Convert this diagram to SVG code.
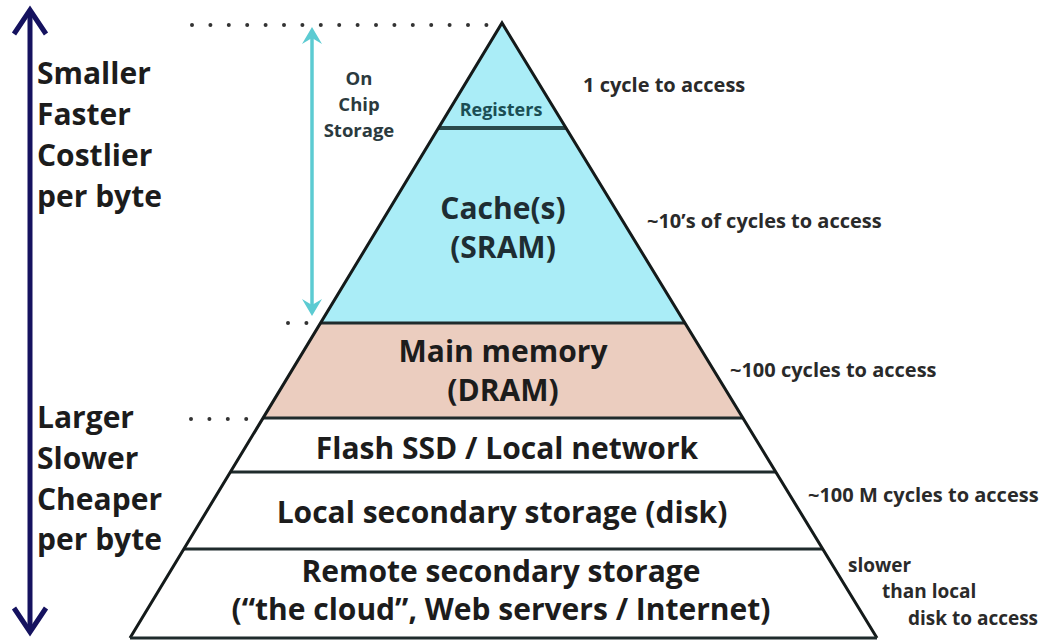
<svg xmlns="http://www.w3.org/2000/svg" width="1047" height="642" viewBox="0 0 1047 642">
<style>
.t{font-family:"Open Sans","Liberation Sans",sans-serif;font-weight:700;fill:#1c1c1c}
.big{font-size:30px}
.mid{font-size:20px;fill:#2a2a2a}
.sm{font-size:18.5px;fill:#2b3a3e}
.c{text-anchor:middle}
.band{stroke:none}
.sep{stroke:#1f2b2c;stroke-width:3;fill:none}
.edge{stroke:#141a1a;stroke-width:3;fill:none;stroke-linejoin:miter}
.dots{stroke:#333;stroke-width:4;stroke-linecap:round;stroke-dasharray:0 18.4;fill:none}
</style>
<rect width="1047" height="642" fill="#ffffff"/>

<g id="registers">
<polygon class="band" points="502,23 438.5,128 566,128" fill="#aaedf7"/>
<text class="t c" x="501" y="116" style="font-size:18px;fill:#1b4e54">Registers</text>
</g>
<g id="cache">
<polygon class="band" points="438.5,128 566,128 685,323 320.5,323" fill="#aaedf7"/>
<text class="t big c" x="503" y="219" style="fill:#1e2d33">Cache(s)</text>
<text class="t big c" x="503" y="258" style="fill:#1e2d33">(SRAM)</text>
</g>
<g id="dram">
<polygon class="band" points="320.5,323 685,323 743,418 263,418" fill="#ebcdbf"/>
<text class="t big c" x="503" y="362">Main memory</text>
<text class="t big c" x="503" y="401">(DRAM)</text>
</g>
<g id="flash">
<polygon class="band" points="263,418 743,418 776,472 230,472" fill="#ffffff"/>
<text class="t big c" x="507" y="459">Flash SSD / Local network</text>
</g>
<g id="disk">
<polygon class="band" points="230,472 776,472 823,549 184,549" fill="#ffffff"/>
<text class="t big c" x="502" y="523">Local secondary storage (disk)</text>
</g>
<g id="remote">
<polygon class="band" points="184,549 823,549 877,638 130,638" fill="#ffffff"/>
<text class="t big c" x="501" y="582">Remote secondary storage</text>
<text class="t big c" x="501" y="620">(“the cloud”, Web servers / Internet)</text>
</g>

<g id="pyramid-lines">
<line class="sep" x1="438.5" y1="128" x2="566" y2="128" style="stroke:#2a4a4c;stroke-width:4"/>
<line class="sep" x1="320.5" y1="323" x2="685" y2="323"/>
<line class="sep" x1="263" y1="418" x2="743" y2="418"/>
<line class="sep" x1="230" y1="472" x2="776" y2="472"/>
<line class="sep" x1="184" y1="549" x2="823" y2="549"/>
<polyline class="edge" points="130,638 502,23 877,638"/>
<line class="sep" x1="130" y1="638" x2="877" y2="638"/>
</g>

<g id="dotted-guides">
<line class="dots" x1="192" y1="25" x2="490" y2="25"/>
<line class="dots" x1="288" y1="323" x2="310" y2="323"/>
<line class="dots" x1="191" y1="419" x2="250" y2="419"/>
</g>

<g id="connectors">
<g id="speed-arrow" fill="none" stroke="#15125f" stroke-width="5">
<line x1="30" y1="12" x2="30" y2="630"/>
<polyline points="14,34 30,10 46,34" stroke-linejoin="miter"/>
<polyline points="14,608 30,632 46,608" stroke-linejoin="miter"/>
</g>
<g id="onchip-arrow">
<line x1="312" y1="34" x2="312" y2="308" stroke="#5ccbd2" stroke-width="3.5"/>
<path d="M312,27 L302,44 L312,38 L322,44 Z" fill="#5ccbd2"/>
<path d="M312,316 L302,299 L312,305 L322,299 Z" fill="#5ccbd2"/>
</g>
</g>

<g id="left-labels">
<text class="t big" x="37" y="84">Smaller</text>
<text class="t big" x="37" y="125">Faster</text>
<text class="t big" x="37" y="166">Costlier</text>
<text class="t big" x="37" y="207">per byte</text>
<text class="t big" x="37" y="428">Larger</text>
<text class="t big" x="37" y="469">Slower</text>
<text class="t big" x="37" y="510">Cheaper</text>
<text class="t big" x="37" y="550">per byte</text>
</g>

<g id="onchip-label">
<text class="t sm c" x="359" y="85">On</text>
<text class="t sm c" x="359" y="111">Chip</text>
<text class="t sm c" x="359" y="137">Storage</text>
</g>

<g id="right-labels">
<text class="t mid" x="583" y="92">1 cycle to access</text>
<text class="t mid" x="647" y="228">~10’s of cycles to access</text>
<text class="t mid" x="730" y="377">~100 cycles to access</text>
<text class="t mid" x="808" y="502">~100 M cycles to access</text>
<text class="t mid" x="848" y="572" style="font-size:19px">slower</text>
<text class="t mid" x="882" y="598" style="font-size:19px">than local</text>
<text class="t mid" x="908" y="625" style="font-size:19px">disk to access</text>
</g>
</svg>
